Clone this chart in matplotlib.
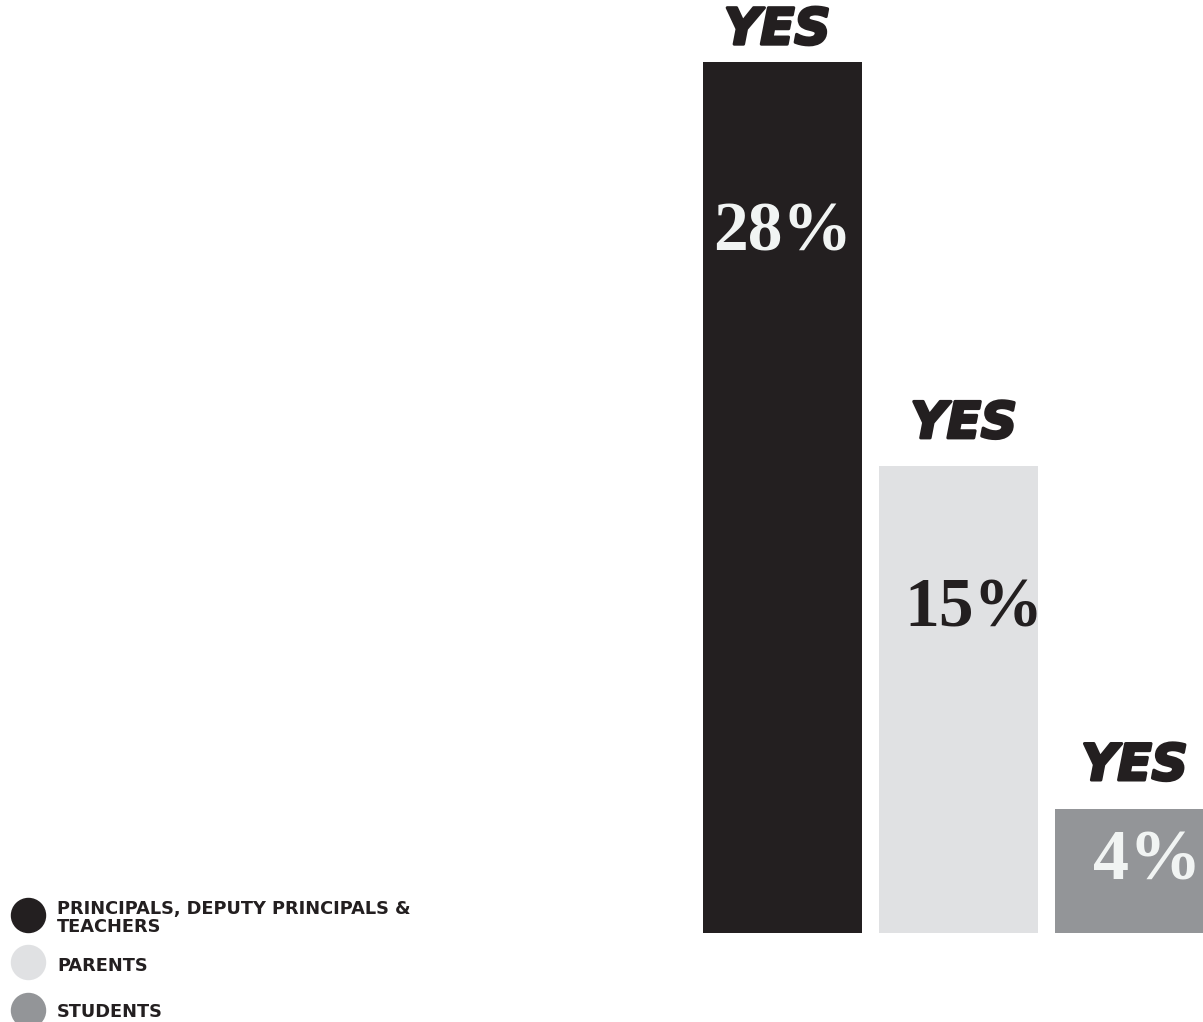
import matplotlib
matplotlib.use("Agg")
import matplotlib.pyplot as plt
import matplotlib.patheffects as pe

# data
groups = ["PRINCIPALS, DEPUTY PRINCIPALS &\nTEACHERS", "PARENTS", "STUDENTS"]
values = [28, 15, 4]
answer = "YES"
colors = ["#231f20", "#e0e1e3", "#939598"]
label_colors = ["#f1f4f3", "#231f20", "#f1f4f3"]

W, H = 1203, 1022
fig = plt.figure(figsize=(W / 100, H / 100), dpi=100)

# bars: axes placed in pixel terms
pitch = 176.0
bw = 159.0 / pitch
left_px, bottom_px = 703, 933
ax = fig.add_axes([left_px / W, (H - bottom_px) / H, (W - left_px) / W, bottom_px / H])
x0 = -bw / 2
ax.set_xlim(x0, x0 + (W - left_px) / pitch)
ax.set_ylim(0, 30)
ax.axis("off")

xs = list(range(len(values)))
ax.bar(xs, values, width=bw, color=colors)

yes_dx = [-0.03, 0.03, 0.0]
yes_gap = [0.58, 0.92, 0.92]
pct_drop = [5.5, 4.6, 1.72]
pct_dx = [0.0, 0.09, 0.07]
pct_size = [50, 50, 52]
heavy = [pe.withStroke(linewidth=2.2, foreground="#231f20")]
for i, v in enumerate(values):
    ax.text(i + yes_dx[i], v + yes_gap[i], answer, ha="center", va="baseline",
            fontsize=36, fontweight="heavy", style="italic",
            family="DejaVu Sans", color="#231f20", path_effects=heavy)
    ax.text(i + pct_dx[i], v - pct_drop[i], f"{v}%", ha="center", va="center",
            fontsize=pct_size[i], fontweight="bold",
            family=["Liberation Serif", "DejaVu Serif"], color=label_colors[i])

# legend in pixel coordinates
lg = fig.add_axes([0, 0, 1, 1])
lg.set_xlim(0, W)
lg.set_ylim(H, 0)
lg.axis("off")
dot_y = [915, 962, 1010]
text_y = [918, 966, 1012]
for g, c, dy, ty in zip(groups, colors, dot_y, text_y):
    lg.scatter([28], [dy], s=600, color=c, clip_on=False)
    lg.text(57, ty, g, ha="left", va="center", fontsize=12.8, fontweight="bold",
            family="DejaVu Sans", color="#231f20", linespacing=0.95)

fig.savefig("out.png", dpi=100)
